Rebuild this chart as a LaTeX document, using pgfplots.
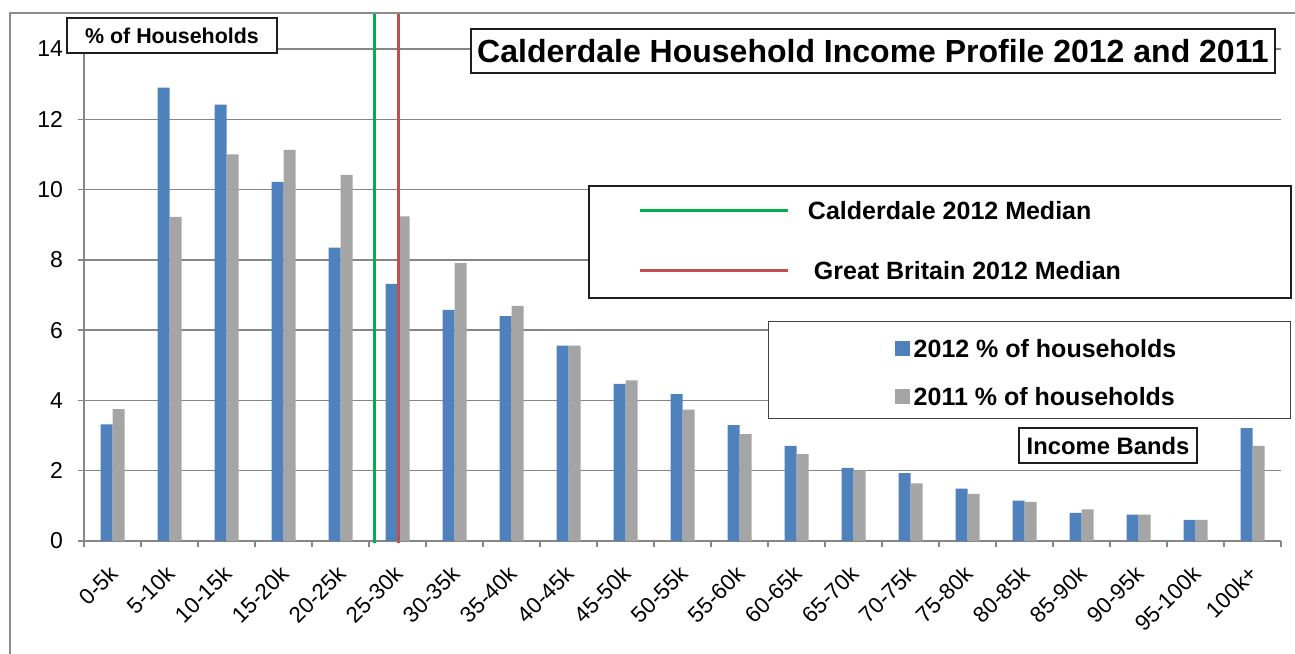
\documentclass[border=0pt]{standalone}
\usepackage{pgfplots}
\usepackage{pgfplotstable}
\pgfplotsset{compat=1.18}
\usepackage{fontspec}
\setmainfont{Liberation Sans}
\definecolor{barblue}{RGB}{79,129,189}
\definecolor{bargrey}{RGB}{165,165,165}
\definecolor{medgreen}{RGB}{0,176,80}
\definecolor{medred}{RGB}{192,80,77}
\definecolor{gridgrey}{RGB}{134,134,134}
\definecolor{framegrey}{RGB}{140,140,140}
\definecolor{boxdark}{RGB}{30,30,30}

\pgfplotstableread{
idx y2012 y2011
0 3.32 3.75
1 12.90 9.22
2 12.42 11.00
3 10.22 11.13
4 8.35 10.42
5 7.32 9.24
6 6.58 7.91
7 6.40 6.69
8 5.56 5.56
9 4.47 4.57
10 4.18 3.74
11 3.30 3.04
12 2.71 2.47
13 2.08 2.01
14 1.93 1.64
15 1.49 1.34
16 1.15 1.11
17 0.80 0.90
18 0.75 0.75
19 0.60 0.60
20 3.21 2.71
}\datatable

\pgfplotsset{
  common/.style={
    at={(0,0)}, anchor=south west,
    scale only axis, width=598.5pt, height=246pt,
    xmin=-0.5, xmax=20.5, ymin=0, ymax=14,
    clip=false,
  },
}

\begin{document}
\begin{tikzpicture}
\begin{axis}[
  common,
  axis lines*=left,
  axis line style={gridgrey, line width=0.75pt},
  ytick={0,2,...,14},
  ymajorgrids, grid style={gridgrey, line width=0.75pt},
  xtick={-0.5,0.5,...,20.5},
  x tick label as interval,
  xticklabels={0-5k,5-10k,10-15k,15-20k,20-25k,25-30k,30-35k,35-40k,40-45k,45-50k,50-55k,55-60k,60-65k,65-70k,70-75k,75-80k,80-85k,85-90k,90-95k,95-100k,100k+},
  tick align=outside,
  major tick length=3pt,
  tick style={gridgrey, line width=0.75pt},
  /pgf/number format/assume math mode=true,
  yticklabel style={font=\fontsize{11.5}{13}\selectfont, text=black, xshift=-4pt},
  xticklabel style={font=\fontsize{11.2}{13}\selectfont, text=black, yshift=-9pt, xshift=3pt, rotate=45, anchor=east},
  legend cell align=left,
  legend style={at={(0.5714,0.4472)}, anchor=north west, draw={rgb,255:red,64;green,64;blue,64}, line width=0.75pt, fill=white,
    inner xsep=0pt, inner ysep=0.25pt, row sep=0pt, column sep=0pt,
    nodes={inner sep=0pt, text height=9pt, text depth=0pt},
    font=\bfseries\fontsize{12.5}{14}\selectfont},
]
\addplot[ybar, bar width=6pt, bar shift=-3pt, fill=barblue, draw=none,
  legend image code/.code={\path[draw=none, fill=none] (0pt,-11pt) rectangle (72.5pt,13pt); \fill[barblue] (63pt,-3.75pt) rectangle (70.5pt,3.75pt);}]
  table[x=idx, y=y2012] {\datatable};
\addlegendentry{\makebox[188.5pt][l]{2012 \% of households}}
\addplot[ybar, bar width=6pt, bar shift=3pt, fill=bargrey, draw=none,
  legend image code/.code={\path[draw=none, fill=none] (0pt,-11pt) rectangle (72.5pt,13pt); \fill[bargrey] (63pt,-3.75pt) rectangle (70.5pt,3.75pt);}]
  table[x=idx, y=y2011] {\datatable};
\addlegendentry{\makebox[188.5pt][l]{2011 \% of households}}

\node[draw=boxdark, line width=1pt, fill=white, font=\bfseries\fontsize{10.7}{12}\selectfont,
  minimum width=105pt, minimum height=17.5pt, inner sep=0pt] at (rel axis cs:0.0735,1.0274) {\% of Households};
\node[draw=boxdark, line width=1pt, fill=white, font=\bfseries\fontsize{16}{18}\selectfont,
  minimum width=402pt, minimum height=22pt, inner sep=0pt] at (rel axis cs:0.6591,0.9959) {Calderdale Household Income Profile 2012 and 2011};
\node[draw=boxdark, line width=1pt, fill=white, font=\bfseries\fontsize{11.9}{13}\selectfont,
  minimum width=89pt, minimum height=17.5pt, inner sep=0pt] at (rel axis cs:0.8555,0.1941) {Income Bands};
\end{axis}

\begin{axis}[
  common,
  hide axis,
  legend cell align=left,
  legend style={at={(0.421,0.7236)}, anchor=north west, draw=boxdark, line width=1pt, fill=white,
    inner xsep=0pt, inner ysep=0pt, row sep=0pt, column sep=0pt,
    nodes={inner sep=0pt, text height=9pt, text depth=0pt},
    font=\bfseries\fontsize{12.5}{14}\selectfont},
]
\addplot[medgreen, line width=1.5pt,
  legend image code/.code={\path[draw=none, fill=none] (0pt,-17.5pt) rectangle (109.5pt,12.5pt); \draw[medgreen, line width=1.5pt] (25.5pt,0pt) -- (99.5pt,0pt);}]
  coordinates {(4.593,-0.05) (4.593,15.03)};
\addlegendentry{\makebox[241.5pt][l]{Calderdale 2012 Median}}
\addplot[medred, line width=1.5pt,
  legend image code/.code={\path[draw=none, fill=none] (0pt,-13.5pt) rectangle (109.5pt,12.5pt); \draw[medred, line width=1.5pt] (25.5pt,0pt) -- (99.5pt,0pt);}]
  coordinates {(5.021,-0.05) (5.021,15.03)};
\addlegendentry{\makebox[241.5pt][l]{\hspace*{3pt}Great Britain 2012 Median}}
\end{axis}

\draw[framegrey, line width=0.75pt] (-37pt,-80pt) -- (-37pt,264pt) -- (660pt,264pt);
\pgfresetboundingbox
\useasboundingbox (-42pt,-56pt) rectangle (605.5pt,270.5pt);
\end{tikzpicture}
\end{document}
